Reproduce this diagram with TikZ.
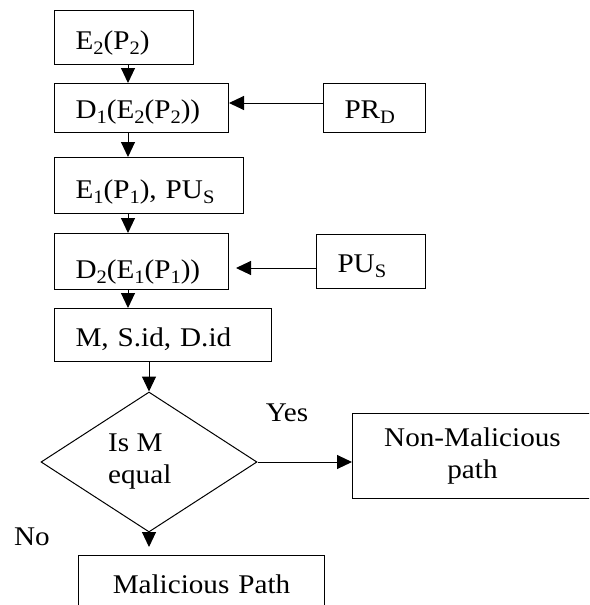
\documentclass[tikz,border=0pt]{standalone}
\usepackage{fontspec}
\setmainfont{Liberation Serif}[FakeStretch=1.08]
\usetikzlibrary{shapes.geometric,arrows.meta}
\newcommand{\sbs}[1]{\raisebox{-4.5pt}{\fontsize{19}{19}\selectfont #1}}
\begin{document}
\begin{tikzpicture}[x=1pt,y=-1pt,
  every node/.style={font=\fontsize{27}{32}\selectfont},
  box/.style={draw, line width=1pt, inner xsep=21pt, inner ysep=0pt, align=left, anchor=north west},
  cbox/.style={draw, line width=1pt, inner sep=0pt, align=center, anchor=north west},
  arr/.style={line width=1pt, -{Triangle[length=15pt,width=14pt]}},
  lbl/.style={inner sep=0pt}]
\useasboundingbox (0,0) rectangle (589,605);
\begin{scope}
\clip (0,0) rectangle (589,605);
\coordinate (spine) at (128,0);
\coordinate (r1) at (0,103);
\coordinate (r2) at (0,268);
\node[box, text width=97pt, text height=39pt, text depth=15pt] (b1) at (54,10) {E\sbs{2}(P\sbs{2})};
\node[box, text width=132pt, text height=35pt, text depth=14pt] (b2) at (54,83) {D\sbs{1}(E\sbs{2}(P\sbs{2}))};
\node[box, text width=147pt, text height=41pt, text depth=15pt] (b3) at (54,157) {E\sbs{1}(P\sbs{1}), PU\sbs{S}};
\node[box, text width=132pt, text height=45pt, text depth=11pt] (b4) at (54,233) {D\sbs{2}(E\sbs{1}(P\sbs{1}))};
\node[box, text width=175pt, text height=38pt, text depth=15pt] (b5) at (54,308) {M, S.id, D.id};
\node[box, text width=60pt, text height=35pt, text depth=14pt] (prd) at (323,83) {PR\sbs{D}};
\node[box, text width=67pt, text height=38pt, text depth=16pt] (pus) at (316,234) {PU\sbs{S}};
\node[draw, diamond, line width=1pt, inner sep=0pt, minimum width=216pt, minimum height=140pt] (dec) at (149,462) {};
\node[lbl, align=left, anchor=base west] (dect) at (108,483) {Is M\\equal};
\node[cbox, minimum width=240pt, minimum height=85pt] (nm) at (352,413) {Non-Malicious\\path};
\node[cbox, text width=246pt, text height=38pt, text depth=20pt] (mp) at (78,555) {Malicious Path};
\node[lbl, anchor=base] (yes) at (287,421) {Yes};
\node[lbl, anchor=base] (no) at (32,545) {No};
\draw[arr] (b1.south -| spine) -- (b2.north -| spine);
\draw[arr] (b2.south -| spine) -- (b3.north -| spine);
\draw[arr] (b3.south -| spine) -- (b4.north -| spine);
\draw[arr] (b4.south -| spine) -- (b5.north -| spine);
\draw[arr] (b5.south -| dec.north) -- (dec.north);
\draw[arr] (prd.west |- r1) -- (b2.east |- r1);
\draw[arr, shorten >=7pt] (pus.west |- r2) -- (b4.east |- r2);
\draw[arr] (dec.east) -- (nm.west |- dec.east);
\draw[arr, shorten >=8pt] (dec.south) -- (mp.north -| dec.south);
\end{scope}
\end{tikzpicture}
\end{document}
